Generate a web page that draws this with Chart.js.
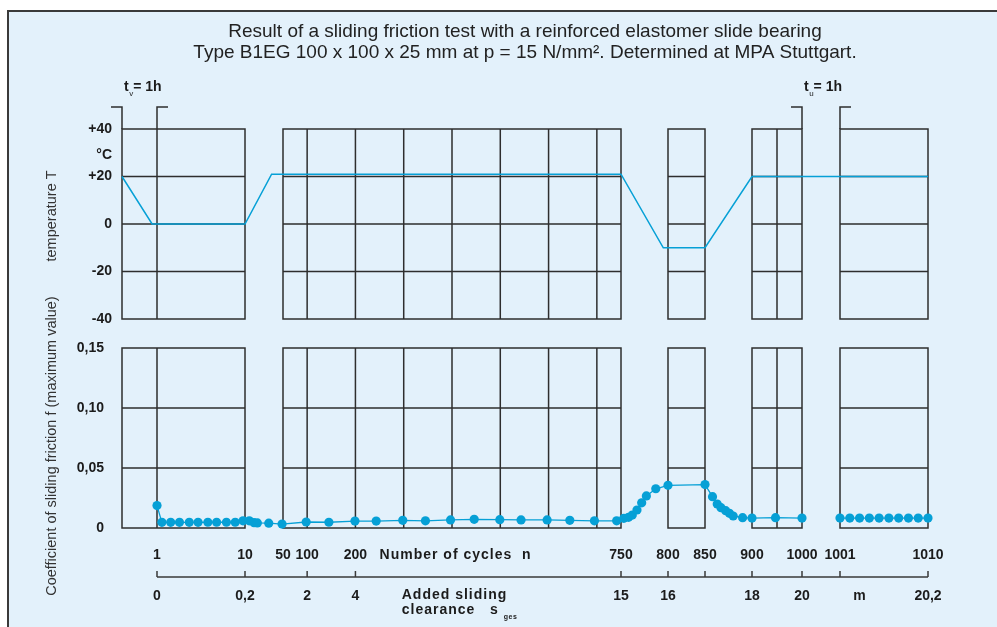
<!DOCTYPE html>
<html>
<head>
<meta charset="utf-8">
<script src="https://cdn.jsdelivr.net/npm/chart.js@4.4.1/dist/chart.umd.min.js"></script>
<style>
  html, body { margin: 0; padding: 0; background: #fff; }
  #wrap { position: relative; width: 997px; height: 627px; overflow: hidden; }
  #frame { position: absolute; left: 7px; top: 10px; width: 1000px; height: 640px;
           background: #e3f1fb; border-left: 2px solid #3a3a3a; border-top: 2px solid #3a3a3a; }
  canvas { position: absolute; left: 0; top: 0; }
</style>
</head>
<body>
<div id="wrap">
  <div id="frame"></div>
  <canvas id="tempChart" width="997" height="627"></canvas>
  <canvas id="fricChart" width="997" height="627"></canvas>
</div>
<script>
// ---- data (x = number of cycles n) ----
const tempCycles = [0, 0.86, 10, 38, 750, 795, 850, 900, 1010];
const tempValues = [20, 0, 0, 21, 21, -10, -10, 20, 20];

const frictionCycles = [1, 1.5, 2.4, 3.3, 4.3, 5.2, 6.2, 7.1, 8.1, 9, 9.8, 14.5, 19.5, 23, 35, 49,
  98, 145, 199, 243, 298, 345, 397, 446, 499, 543, 597, 644, 695, 741,
  753, 758, 762, 767, 772, 777, 787, 800, 850, 858, 863, 867, 872, 876, 880, 890, 900, 947, 1000];
const frictionValues = [0.0187, 0.0047, 0.0047, 0.0047, 0.0047, 0.0047, 0.0048, 0.0048, 0.0048, 0.0048, 0.006, 0.006, 0.0044, 0.0042, 0.004, 0.0033,
  0.005, 0.0048, 0.0058, 0.0058, 0.0064, 0.006, 0.0067, 0.0072, 0.0069, 0.0067, 0.0067, 0.0064, 0.006, 0.006,
  0.0081, 0.0089, 0.0108, 0.015, 0.021, 0.0267, 0.0327, 0.0356, 0.0362, 0.0261, 0.02, 0.0169, 0.0144, 0.0122, 0.01, 0.0086, 0.0083, 0.0086, 0.0083];

// after the 1h hold at +20 °C
const afterHoldCycles = [1001, 1002, 1003, 1004, 1005, 1006, 1007, 1008, 1009, 1010];
const afterHoldValues = [0.0083, 0.0083, 0.0083, 0.0083, 0.0083, 0.0083, 0.0083, 0.0083, 0.0083, 0.0083];

const cycleTicks = [1, 10, 50, 100, 200, 750, 800, 850, 900, 1000, 1001, 1010];
const cycleLabels = ['1', '10', '50', '100', '200', '750', '800', '850', '900', '1000', '1001', '1010'];
const clearanceTicks = [1, 10, 100, 200, 750, 800, 900, 1000, 1003, 1010];
const clearanceLabels = ['0', '0,2', '2', '4', '15', '16', '18', '20', 'm', '20,2'];
const scaleMarks = [1, 10, 100, 200, 750, 800, 850, 900, 1000, 1001, 1010];

const tempTicks = [-40, -20, 0, 20, 29, 40];
const tempLabels = ['-40', '-20', '0', '+20', '°C', '+40'];
const frictionTicks = [0, 0.05, 0.10, 0.15];
const frictionLabels = ['0', '0,05', '0,10', '0,15'];

// broken axis: panels and the stretches between them
const panels = [[0, 10], [50, 750], [800, 850], [900, 1000], [1001, 1010]];
const gridCycles = [1, 100, 200, 300, 400, 500, 600, 700, 950];
const holdPhases = [[0, 1, 'v'], [1000, 1001, 'u']];

const breakCycles = [0, 1, 10, 50, 750, 800, 850, 900, 1000, 1001, 1010];
const breakWidths = [35, 88, 38, 338, 47, 37, 47, 50, 38, 88];

const FONT = '"Liberation Sans", Arial, sans-serif';
const INK = '#1b1b1b';
const BLUE = '#06a0d6';
Chart.defaults.font.family = FONT;
Chart.defaults.color = INK;

const totalW = breakWidths.reduce((a, b) => a + b, 0);
const breakFracs = [0];
breakWidths.forEach(w => breakFracs.push(breakFracs[breakFracs.length - 1] + w / totalW));

class BrokenScale extends Chart.LinearScale {
  static id = 'broken';
  toDecimal(v) {
    const k = breakCycles, f = breakFracs;
    if (v <= k[0]) return f[0];
    for (let i = 1; i < k.length; i++) {
      if (v <= k[i]) return f[i - 1] + (v - k[i - 1]) / (k[i] - k[i - 1]) * (f[i] - f[i - 1]);
    }
    return 1;
  }
  getPixelForValue(v) {
    return v === null || v === undefined ? NaN : this.getPixelForDecimal(this.toDecimal(v));
  }
  getValueForPixel(p) {
    const d = this.getDecimalForPixel(p), k = breakCycles, f = breakFracs;
    for (let i = 1; i < f.length; i++) {
      if (d <= f[i]) return k[i - 1] + (d - f[i - 1]) / (f[i] - f[i - 1]) * (k[i] - k[i - 1]);
    }
    return k[k.length - 1];
  }
}
Chart.register(BrokenScale);

const pts = (xs, ys) => xs.map((x, i) => ({ x: x, y: ys[i] }));

function panelGrid(rows) {
  return {
    id: 'panelGrid',
    beforeDatasetsDraw(chart) {
      const { ctx, chartArea: a, scales: { x, y } } = chart;
      ctx.save();
      ctx.strokeStyle = '#2e2e2e';
      ctx.lineWidth = 1.5;
      panels.forEach(([n0, n1]) => {
        const l = x.getPixelForValue(n0), r = x.getPixelForValue(n1);
        ctx.beginPath();
        gridCycles.filter(n => n > n0 && n < n1).forEach(n => {
          const px = x.getPixelForValue(n);
          ctx.moveTo(px, a.top); ctx.lineTo(px, a.bottom);
        });
        rows.forEach(v => {
          const py = y.getPixelForValue(v);
          ctx.moveTo(l, py); ctx.lineTo(r, py);
        });
        ctx.stroke();
        ctx.strokeRect(l, a.top, r - l, a.bottom - a.top);
      });
      ctx.restore();
    }
  };
}

const holdMarks = {
  id: 'holdMarks',
  afterDraw(chart) {
    const { ctx, chartArea: a, scales: { x } } = chart;
    const yb = a.top - 22;
    ctx.save();
    ctx.strokeStyle = '#2e2e2e';
    ctx.lineWidth = 1.5;
    ctx.fillStyle = INK;
    ctx.textBaseline = 'middle';
    ctx.textAlign = 'left';
    holdPhases.forEach(([n0, n1, sub]) => {
      const l = x.getPixelForValue(n0), r = x.getPixelForValue(n1);
      ctx.beginPath();
      ctx.moveTo(l - 11, yb); ctx.lineTo(l, yb); ctx.lineTo(l, a.top);
      ctx.moveTo(r + 11, yb); ctx.lineTo(r, yb); ctx.lineTo(r, a.top);
      ctx.stroke();
      let tx = l + 2;
      const ty = a.top - 42;
      ctx.font = 'bold 14px ' + FONT;
      ctx.fillText('t', tx, ty);
      tx += ctx.measureText('t').width;
      ctx.font = '8px ' + FONT;
      ctx.fillText(sub, tx + 0.5, ty + 7);
      tx += ctx.measureText(sub).width + 0.5;
      ctx.font = 'bold 14px ' + FONT;
      ctx.fillText('= 1h', tx, ty);
    });
    ctx.restore();
  }
};

const axisNotes = {
  id: 'axisNotes',
  afterDraw(chart) {
    const { ctx, scales: { x, xs } } = chart;
    const yl = xs.top + 9;
    ctx.save();
    ctx.strokeStyle = '#3a3a3a';
    ctx.lineWidth = 1.5;
    ctx.beginPath();
    ctx.moveTo(x.getPixelForValue(1), yl);
    ctx.lineTo(x.getPixelForValue(1010), yl);
    scaleMarks.forEach(n => {
      const px = x.getPixelForValue(n);
      ctx.moveTo(px, yl); ctx.lineTo(px, yl - 6);
    });
    ctx.stroke();

    ctx.fillStyle = INK;
    ctx.textAlign = 'left';
    ctx.textBaseline = 'middle';
    ctx.font = 'bold 14px ' + FONT;
    ctx.letterSpacing = '1px';
    ctx.fillText('Number of cycles  n', x.getPixelForValue(250), x.top + 27);
    const lx = x.getPixelForValue(300) - 2;
    ctx.fillText('Added sliding', lx, xs.top + 27);
    const line2 = 'clearance   s';
    ctx.fillText(line2, lx, xs.top + 42);
    const w = ctx.measureText(line2).width;
    ctx.font = 'bold 7px ' + FONT;
    ctx.letterSpacing = '0.5px';
    ctx.fillText('ges', lx + w + 5, xs.top + 49);
    ctx.restore();
  }
};

const tickFont = { size: 14, weight: 'bold' };
const noGrid = { display: false, drawTicks: false };
const noBorder = { display: false };

// ---- temperature ----
new Chart(document.getElementById('tempChart'), {
  type: 'line',
  data: {
    datasets: [{
      data: pts(tempCycles, tempValues),
      borderColor: BLUE,
      borderWidth: 1.5,
      pointRadius: 0,
      tension: 0,
      clip: false
    }]
  },
  options: {
    responsive: false,
    animation: false,
    events: [],
    layout: { padding: { top: 0, left: 0, right: 69, bottom: 308 } },
    plugins: {
      legend: { display: false },
      tooltip: { enabled: false },
      title: {
        display: true,
        fullSize: false,
        text: ['Result of a sliding friction test with a reinforced elastomer slide bearing',
               'Type B1EG 100 x 100 x 25 mm at p = 15 N/mm². Determined at MPA Stuttgart.'],
        color: '#222',
        font: { size: 19, weight: 'normal', lineHeight: 1.1 },
        padding: { top: 21.5, bottom: 65.7 }
      }
    },
    scales: {
      x: { type: 'broken', display: false, min: 0, max: 1010 },
      y: {
        min: -40, max: 40,
        afterFit: s => { s.width = 122; },
        afterBuildTicks: s => { s.ticks = tempTicks.map(v => ({ value: v })); },
        ticks: { font: tickFont, color: INK, padding: 10, callback: (v, i) => tempLabels[i] },
        grid: noGrid,
        border: noBorder,
        title: { display: true, text: '    temperature T', color: '#333', font: { size: 14.5 }, padding: { top: 43.3, bottom: 0 } }
      }
    }
  },
  plugins: [panelGrid([-20, 0, 20]), holdMarks]
});

// ---- sliding friction ----
new Chart(document.getElementById('fricChart'), {
  type: 'line',
  data: {
    datasets: [{
      data: pts(frictionCycles, frictionValues),
      xAxisID: 'x',
      borderColor: BLUE,
      backgroundColor: BLUE,
      borderWidth: 1.3,
      pointRadius: 4.6,
      pointBorderWidth: 0,
      tension: 0,
      clip: false
    }, {
      data: pts(afterHoldCycles, afterHoldValues),
      xAxisID: 'x',
      borderColor: BLUE,
      backgroundColor: BLUE,
      borderWidth: 1.3,
      pointRadius: 4.6,
      pointBorderWidth: 0,
      tension: 0,
      clip: false
    }]
  },
  options: {
    responsive: false,
    animation: false,
    events: [],
    layout: { padding: { top: 348, left: 0, right: 69, bottom: 19 } },
    plugins: { legend: { display: false }, tooltip: { enabled: false } },
    scales: {
      x: {
        type: 'broken', position: 'bottom', weight: 0, min: 0, max: 1010,
        afterFit: s => { s.height = 40; },
        afterBuildTicks: s => { s.ticks = cycleTicks.map(v => ({ value: v })); },
        ticks: { font: tickFont, color: INK, padding: 19.2, autoSkip: false, maxRotation: 0, callback: (v, i) => cycleLabels[i] },
        grid: noGrid,
        border: noBorder
      },
      xs: {
        type: 'broken', position: 'bottom', axis: 'x', weight: 1, min: 0, max: 1010,
        afterFit: s => { s.height = 40; },
        afterBuildTicks: s => { s.ticks = clearanceTicks.map(v => ({ value: v })); },
        ticks: { font: tickFont, color: INK, padding: 19.8, autoSkip: false, maxRotation: 0, callback: (v, i) => clearanceLabels[i] },
        grid: noGrid,
        border: noBorder
      },
      y: {
        min: 0, max: 0.15,
        afterFit: s => { s.width = 122; },
        afterBuildTicks: s => { s.ticks = frictionTicks.map(v => ({ value: v })); },
        ticks: { font: tickFont, color: INK, padding: 18, callback: (v, i) => frictionLabels[i] },
        grid: noGrid,
        border: noBorder,
        title: { display: true, text: 'Coefficient of sliding friction f (maximum value)    ', color: '#333', font: { size: 14.5 }, padding: { top: 43.3, bottom: 0 } }
      }
    }
  },
  plugins: [panelGrid([0.05, 0.10]), axisNotes]
});
</script>
</body>
</html>
